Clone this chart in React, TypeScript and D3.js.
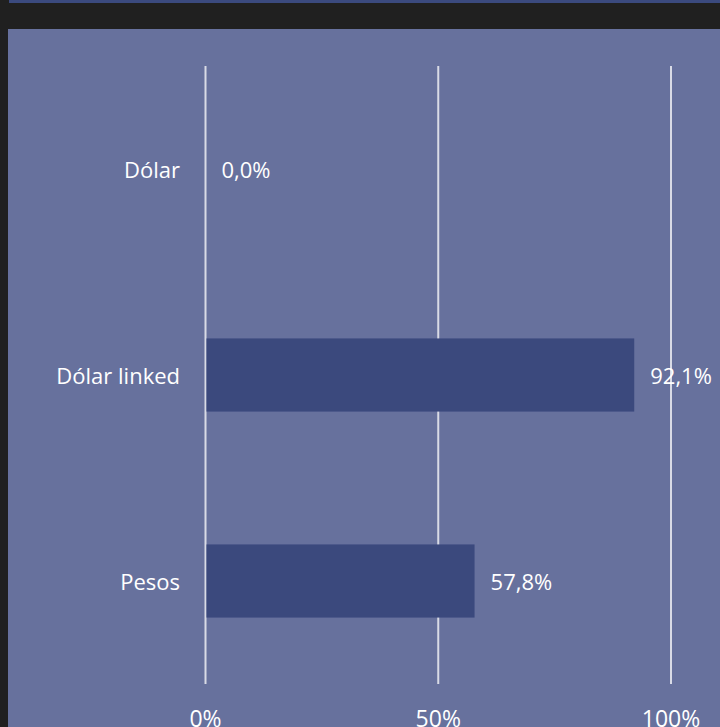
import React from "react";
import * as d3 from "d3";

const categories = ["Dólar", "Dólar linked", "Pesos"];
const values = [0.0, 0.921, 0.578];
const valueLabels = ["0,0%", "92,1%", "57,8%"];
const ticks = [0, 0.5, 1];
const tickLabels = ["0%", "50%", "100%"];

const W = 720;
const H = 727;
const FONT = "'Open Sans', 'Liberation Sans', sans-serif";

export default function App() {
  const x = d3.scaleLinear().domain([0, 1]).range([205.5, 671]);
  const y = d3
    .scaleBand<string>()
    .domain(categories)
    .range([66, 684])
    .paddingInner(0.645)
    .paddingOuter(0.3225);
  const bw = y.bandwidth();

  return (
    <svg
      width={W}
      height={H}
      style={{ position: "fixed", left: 0, top: 0, display: "block" }}
      fontFamily={FONT}
    >
      <rect x={0} y={0} width={W} height={H} fill="#202020" />
      <rect x={9} y={0} width={W - 9} height={3} fill="#3b4a7e" />
      <rect x={8} y={29} width={W - 8} height={H - 29} fill="#67719d" />
      {ticks.map((t, i) => (
        <line
          key={"g" + i}
          x1={x(t)}
          x2={x(t)}
          y1={66}
          y2={684}
          stroke="#d9dbe6"
          strokeWidth={2}
        />
      ))}
      {categories.map((c, i) => (
        <g key={c}>
          <rect
            x={x(0) + 1}
            y={y(c)!}
            width={Math.max(0, x(values[i]) - x(0) - 1)}
            height={bw}
            fill="#3b497d"
          />
          <text
            x={180}
            y={y(c)! + bw / 2}
            textAnchor="end"
            dominantBaseline="central"
            fill="#ffffff"
            fontSize={22}
          >
            {c}
          </text>
          <text
            x={x(values[i]) + 16}
            y={y(c)! + bw / 2}
            textAnchor="start"
            dominantBaseline="central"
            fill="#ffffff"
            fontSize={22}
          >
            {valueLabels[i]}
          </text>
        </g>
      ))}
      {ticks.map((t, i) => (
        <text
          key={"t" + i}
          x={x(t)}
          y={727}
          textAnchor="middle"
          fill="#ffffff"
          fontSize={23}
        >
          {tickLabels[i]}
        </text>
      ))}
    </svg>
  );
}
